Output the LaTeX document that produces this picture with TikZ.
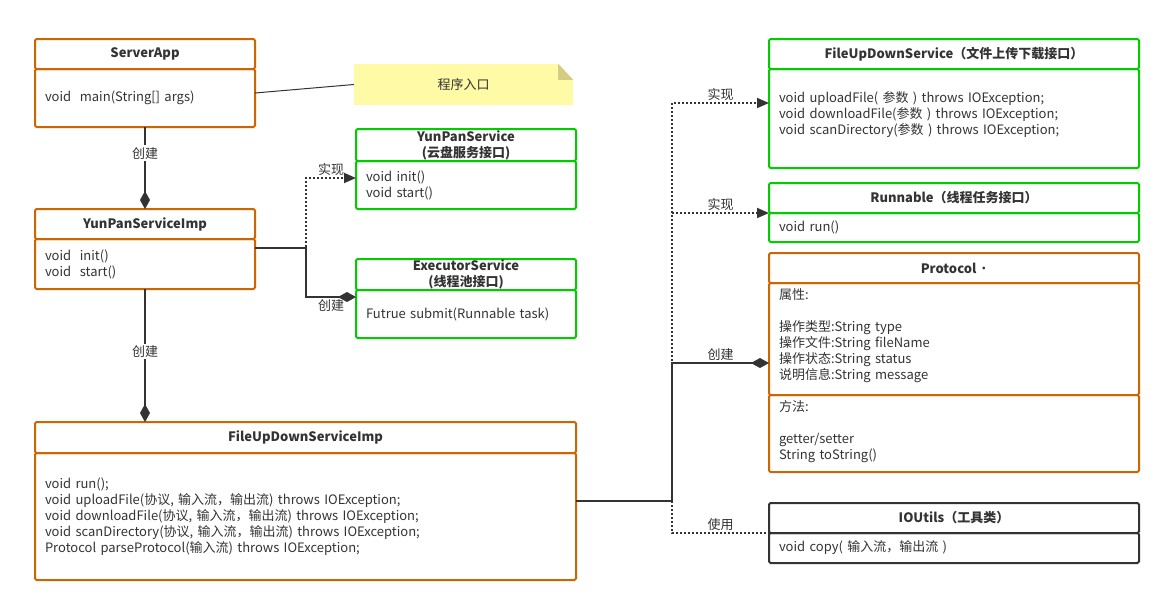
\documentclass[tikz,border=0pt]{standalone}
\usepackage{fontspec}
\setmainfont{Noto Sans CJK SC}
\usetikzlibrary{positioning,arrows.meta}
\definecolor{umlorange}{RGB}{204,102,0}
\definecolor{umlgreen}{RGB}{0,204,0}
\definecolor{umlgray}{RGB}{51,51,51}
\definecolor{notefill}{RGB}{255,250,165}
\definecolor{notefold}{RGB}{210,205,130}
\newcommand\umlfont{\fontsize{13}{16}\selectfont}
\tikzset{
  classhead/.style={draw=#1,line width=2pt,rounded corners=1.5pt,outer sep=0pt,
    inner xsep=10pt,inner ysep=0pt,align=center,font=\umlfont\bfseries,text=umlgray},
  classbody/.style={draw=#1,line width=2pt,rounded corners=1.5pt,outer sep=0pt,
    inner xsep=10pt,inner ysep=0pt,align=left,font=\umlfont,text=umlgray},
  assoc/.style={draw=umlgray,line width=1.8pt,-{Diamond[length=18pt,width=10pt]}},
  realize/.style={draw=umlgray,line width=1.8pt,dash pattern=on 1.8pt off 2.2pt,
    -{Triangle[length=12pt,width=10pt]}},
  uses/.style={draw=umlgray,line width=1.8pt,dash pattern=on 1.8pt off 2.2pt},
  linklabel/.style={text=umlgray,font=\umlfont,inner sep=2pt},
}
\begin{document}
\begin{tikzpicture}[x=1pt,y=-1pt]
\useasboundingbox (0,0) rectangle (1166,598);

% left column
\node[classhead=umlorange,text width=200pt,minimum height=30pt] (serverapp) at (145,54) {ServerApp};
\node[classbody=umlorange,text width=200pt,minimum height=58pt,below=0cm of serverapp] (serverappbody) {void\ \ main(String[] args)};

\node[classhead=umlorange,text width=200pt,minimum height=30pt] (yunpanimp) at (145,224) {YunPanServiceImp};
\node[classbody=umlorange,text width=200pt,minimum height=50pt,below=0cm of yunpanimp] (yunpanimpbody) {void\ \ init()\\void\ \ start()};

\node[classhead=umlorange,text width=521pt,minimum height=31pt] (fileimp) at (305.5,437.5) {FileUpDownServiceImp};
\node[classbody=umlorange,text width=521pt,minimum height=127pt,below=0cm of fileimp] (fileimpbody)
  {void run();\\
   void uploadFile(协议, 输入流，输出流) throws IOException;\\
   void downloadFile(协议, 输入流，输出流) throws IOException;\\
   void scanDirectory(协议, 输入流，输出流) throws IOException;\\
   Protocol parseProtocol(输入流) throws IOException;};

% middle column
\node[fill=notefill,text=umlgray,font=\umlfont,minimum width=219pt,minimum height=41pt,inner sep=0pt] (entry) at (463.5,84.5) {程序入口};
\fill[white] ([xshift=-15pt]entry.north east) -- (entry.north east) -- ([yshift=-16pt]entry.north east) -- cycle;
\fill[notefold] ([xshift=-15pt]entry.north east) -- ([xshift=-15pt,yshift=-16pt]entry.north east) -- ([yshift=-16pt]entry.north east) -- cycle;

\node[classhead=umlgreen,text width=200pt,minimum height=32pt] (yunpan) at (466,145) {YunPanService\\(云盘服务接口)};
\node[classbody=umlgreen,text width=200pt,minimum height=48pt,below=0cm of yunpan] (yunpanbody) {void init()\\void start()};

\node[classhead=umlgreen,text width=200pt,minimum height=31pt] (executor) at (466,274.5) {ExecutorService\\(线程池接口)};
\node[classbody=umlgreen,text width=200pt,minimum height=48pt,below=0cm of executor] (executorbody) {Futrue submit(Runnable task)};

% right column
\node[classhead=umlgreen,text width=350pt,minimum height=30pt] (fileservice) at (954,54) {FileUpDownService（文件上传下载接口）};
\node[classbody=umlgreen,text width=350pt,minimum height=99pt,below=0cm of fileservice] (fileservicebody)
  {void uploadFile( 参数 ) throws IOException;\\
   void downloadFile(参数 ) throws IOException;\\
   void scanDirectory(参数 ) throws IOException;\\[-6pt]\mbox{}};

\node[classhead=umlgreen,text width=350pt,minimum height=30pt] (runnable) at (954,198) {Runnable（线程任务接口）};
\node[classbody=umlgreen,text width=350pt,minimum height=29pt,below=0cm of runnable] (runnablebody) {void run()};

\node[classhead=umlorange,text width=350pt,minimum height=30pt] (protocol) at (954,268) {Protocol ˙};
\node[classbody=umlorange,text width=350pt,minimum height=112pt,below=0cm of protocol] (protocolattr)
  {属性:\\[16pt]
   操作类型:String type\\
   操作文件:String fileName\\
   操作状态:String status\\
   说明信息:String message\\[-6pt]\mbox{}};
\node[classbody=umlorange,text width=350pt,minimum height=77pt,below=0cm of protocolattr] (protocolmeth)
  {方法:\\[16pt]
   getter/setter\\
   String toString()\\[-8pt]\mbox{}};

\node[classhead=umlgray,text width=350pt,minimum height=30pt] (ioutils) at (954,518) {IOUtils（工具类）};
\node[classbody=umlgray,text width=350pt,minimum height=30pt,below=0cm of ioutils] (ioutilsbody) {void copy( 输入流，输出流 )};

% connectors
\draw[umlgray,line width=1pt] ([yshift=5pt]serverappbody.east) -- (entry.west);
\draw[assoc] (serverappbody.south) -- (yunpanimp.north) node[linklabel,fill=white,pos=0.32] {创建};
\draw[assoc] (yunpanimpbody.south) -- (yunpanimpbody.south |- fileimp.north) node[linklabel,fill=white,pos=0.47] {创建};

\coordinate (forkleft) at (306,248);
\draw[realize] (yunpanimpbody.east |- forkleft) -- (forkleft) |- ([yshift=7pt]yunpanbody.west) node[linklabel,above,pos=0.75] {实现};
\draw[assoc] (yunpanimpbody.east |- forkleft) -- (forkleft) |- ([yshift=17pt]executorbody.west) node[linklabel,below,pos=0.75] {创建};

\coordinate (forkright) at (672,501);
\draw[realize] (fileimpbody.east |- forkright) -- (forkright) |- ([yshift=15.5pt]fileservicebody.west) node[linklabel,above,pos=0.75] {实现};
\draw[realize] (forkright) |- (runnablebody.north west) node[linklabel,above,pos=0.75] {实现};
\draw[assoc] (fileimpbody.east |- forkright) -- (forkright) |- ([yshift=-24pt]protocolattr.west) node[linklabel,above,pos=0.75] {创建};
\draw[uses] (forkright) |- (ioutilsbody.north west) node[linklabel,above,pos=0.75] {使用};
\end{tikzpicture}
\end{document}
